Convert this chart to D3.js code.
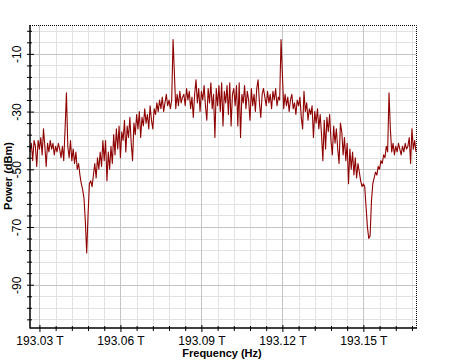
<!DOCTYPE html>
<html>
<head>
<meta charset="utf-8">
<script src="https://cdn.jsdelivr.net/npm/d3@7"></script>
<style>
  html, body { margin: 0; padding: 0; background: #fff; }
  svg { display: block; }
  text { font-family: Arial, "Liberation Sans", sans-serif; fill: #000; }
</style>
</head>
<body>
<script>
// ---- data ----
const freqStart = 193.0265;   // THz, first sample
const freqStep = 0.0005;      // THz, sampling step
const powerDbm = [
  // 0-25
  -44,-41,-47,-40,-42,-49,-40,-43,-39,-45,-36,-42,-49,-41,-44,-40,-43,-41,-45,-42,-44,-41,-43,-46,-42,-47,
  // 26-55
  -36,-23.5,-42,-46,-40,-47,-43,-48,-44,-50,-48,-52,-55,-57,-60,-68,-79,-66,-55,-54,-56,-52,-48,-53,-46,-50,-44,-49,-40,-47,
  // 56-113
  -40,-54,-44,-50,-42,-48,-38,-45,-36,-43,-35,-46,-37,-40,-33,-44,-35,-39,-32,-41,
  -47,-34,-38,-31,-36,-30,-39,-32,-35,-29,-34,-31,-36,-28,-33,-36,-29,-31,-27,-30,
  -26,-29,-25,-30,-27,-24,-28,-26,-29,-26,-5,-17,-29,-24,-28,-23,-27,-25,
  // 114-173
  -24,-28,-22,-26,-23,-29,-25,-32,-24,-19,-27,-22,-30,-23,-26,-21,-28,-33,-22,-27,
  -20,-29,-24,-39,-22,-28,-21,-30,-20,-35,-23,-27,-21,-31,-20,-35,-24,-22,-28,-21,
  -35,-20,-39,-24,-27,-21,-29,-23,-26,-33,-22,-28,-24,-30,-22,-19,-27,-32,-24,-22,
  // 174-230
  -25,-28,-23,-27,-24,-29,-23,-26,-22,-28,-25,-26,-5,-17,-29,-24,-28,-25,-30,-26,
  -24,-29,-27,-31,-26,-28,-25,-32,-36,-23,-30,-27,-33,-29,-31,-28,-39,-30,-34,-29,
  -36,-31,-38,-47,-33,-43,-32,-37,-31,-40,-45,-35,-41,-36,-43,-48,-34,
  // 231-286
  -37,-45,-39,-47,-41,-55,-43,-50,-44,-52,-46,-53,-48,-51,-54,-56,-55,-56,-63,-70,
  -74,-73,-61,-55,-53,-51,-52,-49,-50,-47,-48,-45,-46,-42,-44,-23.5,-36,-44,-41,-45,
  -42,-44,-41,-43,-45,-42,-44,-41,-43,-42,-39,-48,-36,-43,-40,-44
];
const xDomain = [193.0265, 193.1695];
const yDomain = [-105, 0];
const xMajorTicks = [193.03, 193.06, 193.09, 193.12, 193.15];
const yMajorTicks = [-10, -30, -50, -70, -90];
const xTitle = "Frequency (Hz)";
const yTitle = "Power (dBm)";

const series = powerDbm.map((p, i) => ({ f: freqStart + i * freqStep, p }));

// ---- layout ----
const W = 450, H = 360;
const L = 30, R = 416, T = 25, B = 328;

const svg = d3.select("body").append("svg").attr("width", W).attr("height", H);

const x = d3.scaleLinear().domain(xDomain).range([L, R]);
const y = d3.scaleLinear().domain(yDomain).range([B, T]);

// minor ticks
const xMinor = d3.range(0, 30).map(k => 193.03 + k * 0.006).filter(v => v <= xDomain[1] + 1e-9);
const yMinor = d3.range(0, 30).map(k => -2 - k * 4).filter(v => v >= yDomain[0]);
const isMajorX = v => xMajorTicks.some(t => Math.abs(t - v) < 1e-6);
const isMajorY = v => yMajorTicks.some(t => Math.abs(t - v) < 1e-6);

// grid
const grid = svg.append("g");
grid.selectAll("line.vx").data(xMinor.filter(v => !isMajorX(v))).join("line")
  .attr("x1", d => Math.round(x(d)) + 0.5).attr("x2", d => Math.round(x(d)) + 0.5)
  .attr("y1", T).attr("y2", B).attr("stroke", "#e2e2e2").attr("stroke-width", 1);
grid.selectAll("line.hy").data(yMinor.filter(v => !isMajorY(v))).join("line")
  .attr("y1", d => Math.round(y(d)) + 0.5).attr("y2", d => Math.round(y(d)) + 0.5)
  .attr("x1", L).attr("x2", R).attr("stroke", "#e2e2e2").attr("stroke-width", 1);
grid.selectAll("line.vX").data(xMajorTicks).join("line")
  .attr("x1", d => Math.round(x(d)) + 0.5).attr("x2", d => Math.round(x(d)) + 0.5)
  .attr("y1", T).attr("y2", B).attr("stroke", "#c4c4c4").attr("stroke-width", 1);
grid.selectAll("line.hY").data(yMajorTicks).join("line")
  .attr("y1", d => Math.round(y(d)) + 0.5).attr("y2", d => Math.round(y(d)) + 0.5)
  .attr("x1", L).attr("x2", R).attr("stroke", "#c4c4c4").attr("stroke-width", 1);

// data line
const line = d3.line().x(d => x(d.f)).y(d => y(d.p));
svg.append("path").datum(series)
  .attr("d", line).attr("fill", "none")
  .attr("stroke", "#8f0000").attr("stroke-width", 1.1).attr("stroke-linejoin", "round");

// dotted top/right border
svg.append("path")
  .attr("d", `M${L},${T + 0.5}H${R + 0.5}V${B}`)
  .attr("fill", "none").attr("stroke", "#000").attr("stroke-width", 1)
  .attr("stroke-dasharray", "1,1");

// axes
const xAxisMinor = d3.axisBottom(x).tickValues(xMinor.filter(v => !isMajorX(v))).tickSize(3).tickFormat("");
const xAxisMajor = d3.axisBottom(x).tickValues(xMajorTicks).tickSize(4)
  .tickFormat(d => d3.format(".2f")(d) + " T");
const gxm = svg.append("g").attr("transform", `translate(0,${B})`).call(xAxisMinor);
gxm.select(".domain").remove();
gxm.selectAll(".tick line").attr("y1", -2).attr("stroke", "#000");
const gx = svg.append("g").attr("transform", `translate(0,${B})`).call(xAxisMajor);
gx.select(".domain").remove();
gx.selectAll(".tick line").attr("y1", -3).attr("stroke", "#000");
gx.selectAll(".tick text").attr("y", 8).attr("font-size", 12)
  .style("font-family", "Arial, 'Liberation Sans', sans-serif").attr("fill", "#000");

const yAxisMinor = d3.axisLeft(y).tickValues(yMinor.filter(v => !isMajorY(v))).tickSize(3).tickFormat("");
const yAxisMajor = d3.axisLeft(y).tickValues(yMajorTicks).tickSize(3).tickFormat(d => d);
const gym = svg.append("g").attr("transform", `translate(${L},0)`).call(yAxisMinor);
gym.select(".domain").remove();
gym.selectAll(".tick line").attr("x1", 2).attr("stroke", "#000");
const gy = svg.append("g").attr("transform", `translate(${L},0)`).call(yAxisMajor);
gy.select(".domain").remove();
gy.selectAll(".tick line").attr("x1", 4).attr("stroke", "#000");
gy.selectAll(".tick text")
  .attr("x", null).attr("dy", null)
  .attr("transform", "translate(-9,0) rotate(-90)")
  .attr("text-anchor", "middle").attr("y", 0)
  .attr("font-size", 12)
  .style("font-family", "Arial, 'Liberation Sans', sans-serif").attr("fill", "#000");

// axis lines
svg.append("line").attr("x1", L).attr("x2", L).attr("y1", T).attr("y2", B + 0.5)
  .attr("stroke", "#000").attr("stroke-width", 1.5);
svg.append("line").attr("x1", L).attr("x2", R + 1).attr("y1", B).attr("y2", B)
  .attr("stroke", "#000").attr("stroke-width", 1.5);

// titles
svg.append("text").attr("x", 222).attr("y", 357).attr("text-anchor", "middle")
  .attr("font-size", 11).attr("font-weight", "bold").text(xTitle);
svg.append("text").attr("transform", "translate(12,176) rotate(-90)")
  .attr("text-anchor", "middle").attr("font-size", 11).attr("font-weight", "bold").text(yTitle);
</script>
</body>
</html>
